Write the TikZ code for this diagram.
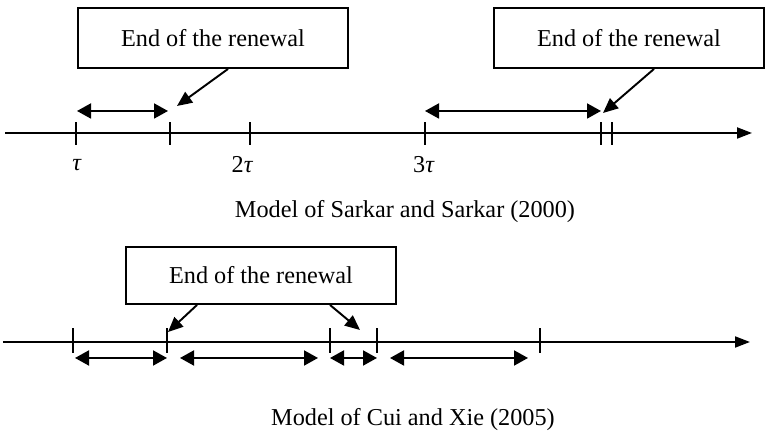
\documentclass[tikz,border=0pt]{standalone}
\usepackage{fontspec}
\setmainfont{Liberation Serif}
\usetikzlibrary{arrows.meta,positioning,calc}

\begin{document}
\begin{tikzpicture}[
  box/.style={rectangle, draw, line width=1.1pt, minimum width=5.4cm, minimum height=1.2cm, align=center},
  axis/.style={-{Triangle[length=0.3cm, width=0.22cm]}, line width=1.1pt},
  arrow/.style={-{Triangle[length=0.3cm, width=0.26cm]}, line width=1.1pt},
  span/.style={{Triangle[length=0.28cm, width=0.3cm]}-{Triangle[length=0.28cm, width=0.3cm]}, line width=1.1pt},
  tickmark/.style={line width=1.1pt},
  every node/.style={font=\fontsize{13.8}{16}\selectfont}
]
\useasboundingbox (0,0) rectangle (15.3,8.7);

% Sarkar and Sarkar (2000)
\coordinate (ax1s) at (0.1,6.04);
\coordinate (ax1e) at (15.04,6.04);
\draw[axis] (ax1s) -- (ax1e);
\foreach \x in {1.52,3.40,5.00,8.50,12.02,12.24}
  \draw[tickmark] (\x,5.80) -- (\x,6.26);

\node (tau1) at (1.54,5.40) {\textit{τ}};
\node (tau2) at (4.85,5.40) {2\textit{τ}};
\node (tau3) at (8.48,5.40) {3\textit{τ}};

\coordinate (s1a) at (1.54,6.48);
\coordinate (s1b) at (3.36,6.48);
\coordinate (s2a) at (8.50,6.48);
\coordinate (s2b) at (12.02,6.48);
\draw[span] (s1a) -- (s1b);
\draw[span] (s2a) -- (s2b);

\node[box] (end1) at (4.26,7.94) {End of the renewal};
\node[box] (end2) at (12.58,7.94) {End of the renewal};
\coordinate (hit1) at (3.54,6.58);
\coordinate (hit2) at (12.06,6.44);
\draw[arrow] ([xshift=0.3cm]end1.south) -- (hit1);
\draw[arrow] ([xshift=0.5cm]end2.south) -- (hit2);

\node (cap1) at (8.10,4.46) {Model of Sarkar and Sarkar (2000)};

% Cui and Xie (2005)
\coordinate (ax2s) at (0.06,1.86);
\coordinate (ax2e) at (15.0,1.86);
\draw[axis] (ax2s) -- (ax2e);
\foreach \x in {1.46,3.34,6.60,7.54,10.80}
  \draw[tickmark] (\x,1.64) -- (\x,2.14);

\coordinate (c1a) at (1.50,1.54);
\coordinate (c1b) at (3.34,1.54);
\coordinate (c2a) at (3.60,1.54);
\coordinate (c2b) at (6.36,1.54);
\coordinate (c3a) at (6.60,1.54);
\coordinate (c3b) at (7.54,1.54);
\coordinate (c4a) at (7.80,1.54);
\coordinate (c4b) at (10.56,1.54);
\draw[span] (c1a) -- (c1b);
\draw[span] (c2a) -- (c2b);
\draw[span] (c3a) -- (c3b);
\draw[span] (c4a) -- (c4b);

\node[box, minimum height=1.14cm] (end3) at (5.22,3.19) {End of the renewal};
\coordinate (hit3) at (3.36,2.06);
\coordinate (hit4) at (7.20,2.10);
\draw[arrow] ([xshift=-1.28cm]end3.south) -- (hit3);
\draw[arrow] ([xshift=1.38cm]end3.south) -- (hit4);

\node (cap2) at (8.26,0.30) {Model of Cui and Xie (2005)};

\end{tikzpicture}
\end{document}
